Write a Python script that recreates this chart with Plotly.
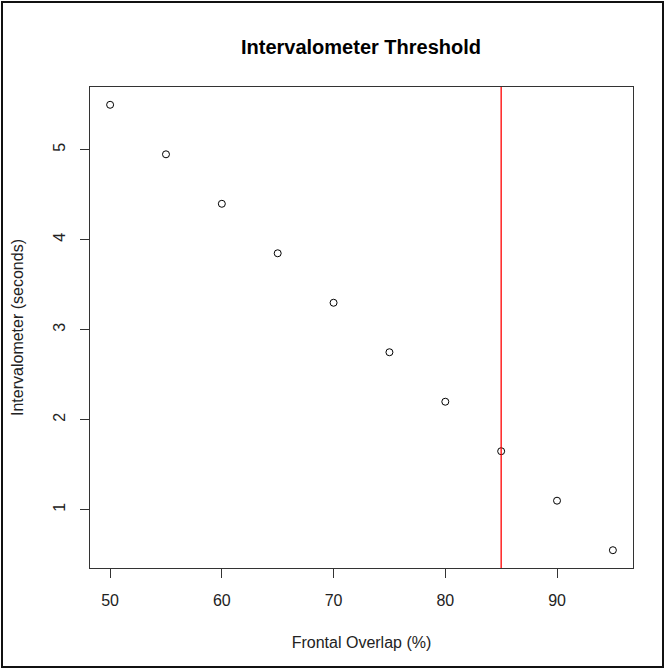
import plotly.graph_objects as go

overlap = [50, 55, 60, 65, 70, 75, 80, 85, 90, 95]
interval = [5.5, 4.95, 4.4, 3.85, 3.3, 2.75, 2.2, 1.65, 1.1, 0.55]
threshold = 85
x_ticks = [50, 60, 70, 80, 90]
y_ticks = [1, 2, 3, 4, 5]

W, H = 665, 670
L, R, T, B = 90, 32, 87, 102
pw, ph = W - L - R, H - T - B

font = "Liberation Sans, Arial, sans-serif"

fig = go.Figure()
fig.add_trace(go.Scatter(
    x=overlap, y=interval, mode="markers",
    marker=dict(symbol="circle-open", size=7, color="black", line=dict(width=1)),
    showlegend=False, hoverinfo="x+y"))

xmin, xmax = min(overlap), max(overlap)
ymin, ymax = min(interval), max(interval)
xr = [xmin - 0.04 * (xmax - xmin), xmax + 0.04 * (xmax - xmin)]
yr = [ymin - 0.04 * (ymax - ymin), ymax + 0.04 * (ymax - ymin)]

fig.add_shape(type="line", x0=threshold, x1=threshold, y0=0, y1=1,
              xref="x", yref="paper", line=dict(color="red", width=1.3))

# outer border of the figure
fig.add_shape(type="rect", xref="paper", yref="paper",
              x0=(2 - L) / pw, x1=(663 - L) / pw,
              y0=1 - (2 - T) / ph, y1=1 - (667 - T) / ph,
              line=dict(color="#111", width=2), fillcolor="rgba(0,0,0,0)")

fig.update_layout(
    width=W, height=H,
    margin=dict(l=L, r=R, t=T, b=B, autoexpand=False),
    paper_bgcolor="white", plot_bgcolor="white",
    font=dict(family=font, color="#222", size=16),
    title=dict(text="<b>Intervalometer Threshold</b>", x=361 / W, xanchor="center",
               y=1 - 47 / H, yanchor="middle", font=dict(size=20, color="black")),
    xaxis=dict(range=xr, tickvals=x_ticks, ticks="outside", ticklen=9, tickcolor="#333",
               showline=True, mirror=True, linecolor="#333", linewidth=1,
               showgrid=False, zeroline=False, tickfont=dict(size=16),
               ticklabelstandoff=9,
               title=dict(text="Frontal Overlap (%)", font=dict(size=16), standoff=28)),
    yaxis=dict(range=yr, tickvals=y_ticks, ticks="outside", ticklen=9, tickcolor="#333",
               showline=True, mirror=True, linecolor="#333", linewidth=1,
               showgrid=False, zeroline=False, tickangle=-90, tickfont=dict(size=16),
               ticklabelstandoff=9,
               title=dict(text="Intervalometer (seconds)", font=dict(size=16), standoff=22)),
)

fig.write_html("out.html", config={"displayModeBar": False},
               post_script="document.body.style.margin='0';document.body.style.overflow='hidden';")
